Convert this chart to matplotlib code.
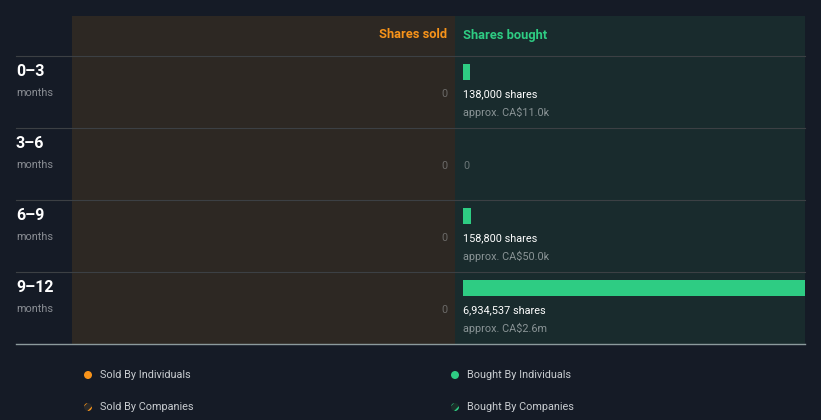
import matplotlib
matplotlib.use("Agg")
import matplotlib.pyplot as plt
from matplotlib.patches import Rectangle, Circle

plt.rcParams['font.family'] = ['Roboto', 'DejaVu Sans']
plt.rcParams['hatch.linewidth'] = 1.6

periods = ["0\u20133", "3\u20136", "6\u20139", "9\u201312"]
period_unit = "months"
sold_shares = [0, 0, 0, 0]
bought_shares = [138000, 0, 158800, 6934537]
bought_value = ["approx. CA$11.0k", None, "approx. CA$50.0k", "approx. CA$2.6m"]
legend_labels = ["Sold By Individuals", "Bought By Individuals", "Sold By Companies", "Bought By Companies"]

BG = "#151b26"
SOLD_BG = "#2d2823"
BOUGHT_BG = "#192b2d"
ORANGE = "#f7931a"
GREEN = "#2ecc83"
GRID = "#3c4044"
W, H = 821, 420

fig = plt.figure(figsize=(W / 100, H / 100), dpi=100)
fig.patch.set_facecolor(BG)

# background axes in pixel coordinates
bg = fig.add_axes([0, 0, 1, 1])
bg.set_xlim(0, W)
bg.set_ylim(H, 0)
bg.set_aspect("auto")
bg.axis("off")

top, head, rowh = 16, 56, 72
bottom = head + rowh * len(periods)
bg.add_patch(Rectangle((72, top), 455 - 72, bottom - top, color=SOLD_BG, lw=0))
bg.add_patch(Rectangle((455, top), 805 - 455, bottom - top, color=BOUGHT_BG, lw=0))
bg.text(447, 35, "Shares sold", color=ORANGE, fontsize=9.3, fontweight="bold", ha="right", va="center")
bg.text(463, 35, "Shares bought", color=GREEN, fontsize=9.3, fontweight="bold", ha="left", va="center")

for i, p in enumerate(periods):
    y0 = head + i * rowh
    bg.plot([16, 805], [y0, y0], color=GRID, lw=0.8)
    bg.text(16, y0 + 15, p, color="white", fontsize=11.5, fontweight="bold", ha="left", va="center")
    bg.text(16, y0 + 37, period_unit, color="#8a8e94", fontsize=7.8, ha="left", va="center")
    bg.text(447, y0 + 38, f"{sold_shares[i]:,}", color="#6b6a68", fontsize=7.8, ha="right", va="center")
bg.plot([16, 805], [bottom, bottom], color="#8c9a9c", lw=1.0)

# bar axes for bought shares
bx = fig.add_axes([463 / W, 1 - bottom / H, (805 - 463) / W, (bottom - head) / H])
bx.set_xlim(0, max(bought_shares))
bx.set_ylim(len(periods), 0)
bx.axis("off")
bx.patch.set_alpha(0)
ypos = [i + 16 / rowh for i in range(len(periods))]
bx.barh(ypos, bought_shares, height=16 / rowh, left=0, color=GREEN, align="center")
for i, v in enumerate(bought_shares):
    if v > 0:
        bx.text(0, i + 38 / rowh, f"{v:,} shares", color="white", fontsize=7.8, ha="left", va="center")
        bx.text(0, i + 56 / rowh, bought_value[i], color="#8a9496", fontsize=7.8, ha="left", va="center")
    else:
        bx.text(0, i + 38 / rowh, "0", color="#6b7677", fontsize=7.8, ha="left", va="center")

# legend
leg_pos = [(88, 375), (455, 375), (88, 407), (455, 407)]
leg_col = [ORANGE, GREEN, ORANGE, GREEN]
for k, ((x, y), lab, c) in enumerate(zip(leg_pos, legend_labels, leg_col)):
    if k < 2:
        bg.add_patch(Circle((x, y), 4, color=c, lw=0))
    else:
        bg.add_patch(Circle((x, y), 4, facecolor="#2a2a2a" if k == 2 else "#1b2e2a",
                            edgecolor=c, hatch="///", lw=0))
    bg.text(x + 12, y, lab, color="#c8ccd0", fontsize=7.8, ha="left", va="center")

fig.savefig("out.png", dpi=100, facecolor=BG)
